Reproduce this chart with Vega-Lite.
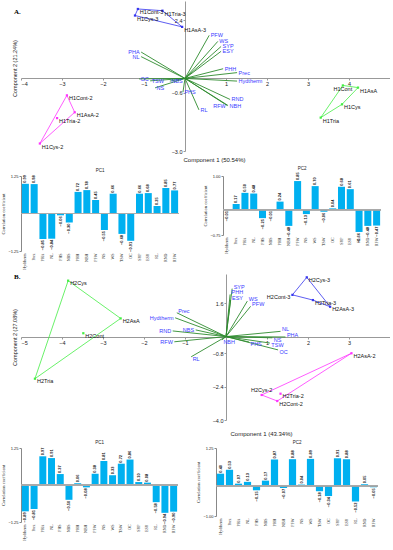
{
  "$schema": "https://vega.github.io/schema/vega-lite/v6.json",
  "padding": {"left": 0, "top": 1, "right": 0, "bottom": 0},
  "background": "white",
  "spacing": 3,
  "config": {
    "view": {"stroke": null},
    "axis": {"labelFont": "Liberation Sans", "titleFont": "Liberation Sans", "titleFontWeight": "normal", "labelColor": "#222", "titleColor": "#222", "grid": false},
    "title": {"font": "Liberation Sans", "fontWeight": "normal", "fontSize": 5, "color": "#222"},
    "text": {"font": "Liberation Sans"}
  },
  "datasets": {
    "loadA": [
      {"v": "Hydtherm", "pc1": 0.99, "pc2": -0.01, "x": 1.27, "y": -0.11},
      {"v": "Prec", "pc1": 0.98, "pc2": 0.17, "x": 1.27, "y": 0.24},
      {"v": "PHA", "pc1": -0.85, "pc2": 0.50, "x": -1.07, "y": 1.09},
      {"v": "NL", "pc1": -0.84, "pc2": 0.48, "x": -1.07, "y": 0.90},
      {"v": "PHS", "pc1": -0.06, "pc2": -0.25, "x": -0.05, "y": -0.57},
      {"v": "NBS", "pc1": -0.30, "pc2": -0.01, "x": -0.37, "y": -0.11},
      {"v": "PHH", "pc1": 0.72, "pc2": 0.24, "x": 0.93, "y": 0.40},
      {"v": "NBH", "pc1": 0.78, "pc2": -0.48, "x": 1.05, "y": -1.12},
      {"v": "PFW", "pc1": 0.45, "pc2": 0.85, "x": 0.59, "y": 1.78},
      {"v": "NS", "pc1": -0.55, "pc2": -0.13, "x": -0.73, "y": -0.39},
      {"v": "WS", "pc1": 0.66, "pc2": 0.70, "x": 0.80, "y": 1.53},
      {"v": "TSW", "pc1": -0.68, "pc2": -0.06, "x": -0.85, "y": -0.10},
      {"v": "OC", "pc1": -0.91, "pc2": 0.04, "x": -1.12, "y": -0.02},
      {"v": "SYP", "pc1": 0.66, "pc2": 0.68, "x": 0.88, "y": 1.32},
      {"v": "ESY", "pc1": 0.68, "pc2": 0.61, "x": 0.88, "y": 1.12},
      {"v": "RL", "pc1": 0.25, "pc2": -0.66, "x": 0.34, "y": -1.30},
      {"v": "RND", "pc1": 0.85, "pc2": -0.48, "x": 1.10, "y": -0.87},
      {"v": "RFW", "pc1": 0.77, "pc2": -0.47, "x": 1.03, "y": -1.12}
    ],
    "loadB": [
      {"v": "Hydtherm", "pc1": -0.89, "pc2": 0.40, "x": -1.24, "y": 0.90},
      {"v": "Prec", "pc1": -0.81, "pc2": 0.53, "x": -1.20, "y": 1.14},
      {"v": "PHA", "pc1": 0.97, "pc2": 0.07, "x": 1.45, "y": -0.02},
      {"v": "NL", "pc1": 0.91, "pc2": 0.13, "x": 1.33, "y": 0.25},
      {"v": "PHS", "pc1": 0.37, "pc2": -0.15, "x": 0.56, "y": -0.26},
      {"v": "NBS", "pc1": -0.50, "pc2": 0.17, "x": -0.74, "y": 0.32},
      {"v": "PHH", "pc1": 0.06, "pc2": 0.87, "x": 0.10, "y": 2.02},
      {"v": "NBH", "pc1": -0.08, "pc2": -0.07, "x": -0.10, "y": -0.16},
      {"v": "PFW", "pc1": 0.38, "pc2": 0.88, "x": 0.60, "y": 1.45},
      {"v": "NS", "pc1": 0.81, "pc2": 0.04, "x": 1.13, "y": -0.06},
      {"v": "WS", "pc1": 0.33, "pc2": 0.89, "x": 0.52, "y": 1.70},
      {"v": "TSW", "pc1": 0.72, "pc2": -0.18, "x": 1.07, "y": -0.31},
      {"v": "OC", "pc1": 0.86, "pc2": -0.34, "x": 1.27, "y": -0.64},
      {"v": "SYP", "pc1": 0.10, "pc2": 0.91, "x": 0.15, "y": 2.30},
      {"v": "ESY", "pc1": 0.08, "pc2": 0.88, "x": 0.11, "y": 1.75},
      {"v": "RL", "pc1": -0.58, "pc2": -0.52, "x": -0.85, "y": -0.97},
      {"v": "RND", "pc1": -0.94, "pc2": 0.05, "x": -1.30, "y": 0.27},
      {"v": "RFW", "pc1": -0.90, "pc2": -0.05, "x": -1.26, "y": -0.25}
    ],
    "grpA": [
      {"id": "H1Cont-3", "g": "3", "x": -1.15, "y": 2.87},
      {"id": "H1Tria-3", "g": "3", "x": -0.55, "y": 2.80},
      {"id": "H1AsA-3", "g": "3", "x": -0.07, "y": 2.13},
      {"id": "H1Cys-3", "g": "3", "x": -1.22, "y": 2.60},
      {"id": "H1Cont-2", "g": "2", "x": -2.88, "y": -0.70},
      {"id": "H1AsA-2", "g": "2", "x": -2.69, "y": -1.40},
      {"id": "H1Tria-2", "g": "2", "x": -3.12, "y": -1.64},
      {"id": "H1Cys-2", "g": "2", "x": -3.54, "y": -2.69},
      {"id": "H1Cont", "g": "1", "x": 3.85, "y": -0.29},
      {"id": "H1AsA", "g": "1", "x": 4.22, "y": -0.38},
      {"id": "H1Cys", "g": "1", "x": 3.83, "y": -1.07},
      {"id": "H1Tria", "g": "1", "x": 3.31, "y": -1.62}
    ],
    "hullA": [
      {"g": "3", "o": 1, "x": -1.15, "y": 2.87},
      {"g": "3", "o": 2, "x": -0.55, "y": 2.80},
      {"g": "3", "o": 3, "x": -0.07, "y": 2.13},
      {"g": "3", "o": 4, "x": -1.22, "y": 2.60},
      {"g": "3", "o": 5, "x": -1.15, "y": 2.87},
      {"g": "2", "o": 1, "x": -3.54, "y": -2.69},
      {"g": "2", "o": 2, "x": -2.88, "y": -0.70},
      {"g": "2", "o": 3, "x": -2.69, "y": -1.40},
      {"g": "2", "o": 4, "x": -3.54, "y": -2.69},
      {"g": "1", "o": 1, "x": 3.31, "y": -1.62},
      {"g": "1", "o": 2, "x": 3.85, "y": -0.29},
      {"g": "1", "o": 3, "x": 4.22, "y": -0.38},
      {"g": "1", "o": 4, "x": 3.83, "y": -1.07},
      {"g": "1", "o": 5, "x": 3.31, "y": -1.62}
    ],
    "grpB": [
      {"id": "H2Cys", "g": "1", "x": -3.85, "y": 2.68},
      {"id": "H2AsA", "g": "1", "x": -2.57, "y": 0.87},
      {"id": "H2Cont", "g": "1", "x": -3.48, "y": 0.16},
      {"id": "H2Tria", "g": "1", "x": -4.66, "y": -2.02},
      {"id": "H2Cys-3", "g": "3", "x": 1.97, "y": 2.84},
      {"id": "H2Cont-3", "g": "3", "x": 1.62, "y": 2.0},
      {"id": "H2Tria-3", "g": "3", "x": 2.12, "y": 1.75},
      {"id": "H2AsA-3", "g": "3", "x": 2.54, "y": 1.43},
      {"id": "H2AsA-2", "g": "2", "x": 3.06, "y": -0.80},
      {"id": "H2Cys-2", "g": "2", "x": 0.87, "y": -2.80},
      {"id": "H2Tria-2", "g": "2", "x": 1.33, "y": -2.74},
      {"id": "H2Cont-2", "g": "2", "x": 1.25, "y": -3.09}
    ],
    "hullB": [
      {"g": "1", "o": 1, "x": -3.85, "y": 2.68},
      {"g": "1", "o": 2, "x": -2.57, "y": 0.87},
      {"g": "1", "o": 3, "x": -4.66, "y": -2.02},
      {"g": "1", "o": 4, "x": -3.85, "y": 2.68},
      {"g": "3", "o": 1, "x": 1.97, "y": 2.84},
      {"g": "3", "o": 2, "x": 2.54, "y": 1.43},
      {"g": "3", "o": 3, "x": 2.12, "y": 1.75},
      {"g": "3", "o": 4, "x": 1.62, "y": 2.0},
      {"g": "3", "o": 5, "x": 1.97, "y": 2.84},
      {"g": "2", "o": 1, "x": 3.06, "y": -0.80},
      {"g": "2", "o": 2, "x": 0.87, "y": -2.80},
      {"g": "2", "o": 3, "x": 1.25, "y": -3.09},
      {"g": "2", "o": 4, "x": 3.06, "y": -0.80}
    ]
  },
  "vconcat": [
    {
      "width": 369, "height": 150,
      "title": {"text": "A.", "anchor": "start", "font": "Liberation Serif", "fontSize": 7, "fontWeight": "bold", "color": "#000", "offset": -14, "dx": 2},
      "layer": [
        {
          "data": {"name": "loadA"},
          "mark": {"type": "rule", "color": "#2e8b2e", "strokeWidth": 0.9},
          "encoding": {
            "x": {"field": "x", "type": "quantitative", "scale": {"domain": [-4, 5], "nice": false, "zero": false},
                  "axis": {"values": [-4, -3, -2, -1, 1, 2, 3, 4], "format": "d", "offset": -73, "title": "Component 1 (50.54%)", "titleX": 193, "titleY": 81, "titleAlign": "center", "titleBaseline": "middle", "titleFontSize": 6, "labelFontSize": 5.5, "tickSize": 2, "labelPadding": 1, "domainColor": "#999", "tickColor": "#999"}},
            "y": {"field": "y", "type": "quantitative", "scale": {"domain": [-3.0, 3.2], "nice": false, "zero": false},
                  "axis": {"values": [2.4, 1.8, 1.2, 0.6, -0.6, -1.2, -1.8, -2.4, -3.0], "format": ".1f", "offset": -164, "title": "Component 2 (21.24%)", "titleX": -171, "titleY": 67, "titleAngle": 270, "titleAlign": "center", "titleBaseline": "middle", "titleFontSize": 5.5, "labelFontSize": 5.5, "tickSize": 2, "labelPadding": 1, "domainColor": "#999", "tickColor": "#999"}},
            "x2": {"datum": 0},
            "y2": {"datum": 0}
          }
        },
        {
          "data": {"name": "hullA"},
          "mark": {"type": "line", "strokeWidth": 0.8},
          "encoding": {
            "x": {"field": "x", "type": "quantitative"},
            "y": {"field": "y", "type": "quantitative"},
            "color": {"field": "g", "type": "nominal", "scale": {"domain": ["1", "2", "3"], "range": ["#44ee44", "#ff33ff", "#3535ee"]}, "legend": null},
            "order": {"field": "o", "type": "quantitative"}
          }
        },
        {
          "data": {"name": "grpA"},
          "mark": {"type": "square", "size": 5, "filled": true, "opacity": 1},
          "encoding": {
            "x": {"field": "x", "type": "quantitative"},
            "y": {"field": "y", "type": "quantitative"},
            "color": {"field": "g", "type": "nominal", "legend": null}
          }
        },
        {
          "data": {"name": "grpA"},
          "transform": [{"filter": {"not": {"field": "id", "equal": "H1Cont"}}}],
          "mark": {"type": "text", "align": "left", "baseline": "middle", "dx": 2, "dy": 3, "fontSize": 5.5, "color": "#111"},
          "encoding": {
            "x": {"field": "x", "type": "quantitative"},
            "y": {"field": "y", "type": "quantitative"},
            "text": {"field": "id"}
          }
        },
        {
          "data": {"name": "grpA"},
          "transform": [{"filter": {"field": "id", "equal": "H1Cont"}}],
          "mark": {"type": "text", "align": "center", "baseline": "middle", "dy": 3.5, "fontSize": 5.5, "color": "#111"},
          "encoding": {
            "x": {"field": "x", "type": "quantitative"},
            "y": {"field": "y", "type": "quantitative"},
            "text": {"field": "id"}
          }
        },
        {
          "data": {"name": "loadA"},
          "transform": [{"filter": {"not": {"field": "v", "oneOf": ["PHA", "NL", "RFW"]}}}],
          "mark": {"type": "text", "align": "left", "baseline": "middle", "dx": 1.5, "fontSize": 5.5, "color": "#3a3aff"},
          "encoding": {
            "x": {"field": "x", "type": "quantitative"},
            "y": {"field": "y", "type": "quantitative"},
            "text": {"field": "v"}
          }
        },
        {
          "data": {"name": "loadA"},
          "transform": [{"filter": {"field": "v", "oneOf": ["PHA", "NL", "RFW"]}}],
          "mark": {"type": "text", "align": "right", "baseline": "middle", "dx": -1.5, "fontSize": 5.5, "color": "#3a3aff"},
          "encoding": {
            "x": {"field": "x", "type": "quantitative"},
            "y": {"field": "y", "type": "quantitative"},
            "text": {"field": "v"}
          }
        }
      ]
    },
    {
      "spacing": 22,
      "hconcat": [
        {
          "width": 158, "height": 75,
          "title": {"text": "PC1", "fontSize": 4.5, "offset": 2},
          "data": {"name": "loadA"},
          "layer": [
            {"mark": {"type": "bar", "color": "#00b0f0"},
             "encoding": {
               "x": {"field": "v", "type": "nominal", "sort": null, "scale": {"paddingInner": 0.2, "paddingOuter": 0.1}, "axis": {"title": null, "labelAngle": 270, "labelFontSize": 4, "labelFont": "Liberation Serif", "ticks": false, "domain": false, "labelPadding": 2}},
               "y": {"field": "pc1", "type": "quantitative", "scale": {"domain": [-1.25, 1.25], "nice": false}, "axis": {"values": [1.25, 0.75, 0.25, -0.25, -0.75, -1.25], "format": ".2f", "title": "Correlation coefficient", "titleFontSize": 4.5, "titleFont": "Liberation Serif", "titlePadding": 2, "labelFontSize": 4, "tickSize": 2, "labelPadding": 1, "domainColor": "#888", "tickColor": "#888"}}
             }},
            {"mark": {"type": "rule", "color": "#aaa", "strokeWidth": 0.5}, "encoding": {"y": {"datum": 0}}},
            {"transform": [{"filter": "datum.pc1 >= 0"}],
             "mark": {"type": "text", "angle": 270, "align": "left", "baseline": "middle", "dx": 1, "fontSize": 4, "fontWeight": "bold", "color": "#111"},
             "encoding": {"x": {"field": "v", "type": "nominal", "sort": null}, "y": {"field": "pc1", "type": "quantitative"}, "text": {"field": "pc1", "format": ".2f"}}},
            {"transform": [{"filter": "datum.pc1 < 0"}],
             "mark": {"type": "text", "angle": 270, "align": "right", "baseline": "middle", "dx": -1, "fontSize": 4, "fontWeight": "bold", "color": "#111"},
             "encoding": {"x": {"field": "v", "type": "nominal", "sort": null}, "y": {"field": "pc1", "type": "quantitative"}, "text": {"field": "pc1", "format": ".2f"}}}
          ]
        },
        {
          "width": 158, "height": 59,
          "title": {"text": "PC2", "fontSize": 4.5, "offset": 2},
          "data": {"name": "loadA"},
          "layer": [
            {"mark": {"type": "bar", "color": "#00b0f0"},
             "encoding": {
               "x": {"field": "v", "type": "nominal", "sort": null, "scale": {"paddingInner": 0.2, "paddingOuter": 0.1}, "axis": {"title": null, "labelAngle": 270, "labelFontSize": 4, "labelFont": "Liberation Serif", "ticks": false, "domain": false, "labelPadding": 2}},
               "y": {"field": "pc2", "type": "quantitative", "scale": {"domain": [-0.75, 1.0], "nice": false}, "axis": {"values": [1.0, 0.75, 0.5, 0.25, 0, -0.25, -0.5, -0.75], "format": ".2f", "title": "Correlation coefficient", "titleFontSize": 4.5, "titleFont": "Liberation Serif", "titlePadding": 2, "labelFontSize": 4, "tickSize": 2, "labelPadding": 1, "domainColor": "#888", "tickColor": "#888"}}
             }},
            {"mark": {"type": "rule", "color": "#aaa", "strokeWidth": 0.5}, "encoding": {"y": {"datum": 0}}},
            {"transform": [{"filter": "datum.pc2 >= 0"}],
             "mark": {"type": "text", "angle": 270, "align": "left", "baseline": "middle", "dx": 1, "fontSize": 4, "fontWeight": "bold", "color": "#111"},
             "encoding": {"x": {"field": "v", "type": "nominal", "sort": null}, "y": {"field": "pc2", "type": "quantitative"}, "text": {"field": "pc2", "format": ".2f"}}},
            {"transform": [{"filter": "datum.pc2 < 0"}],
             "mark": {"type": "text", "angle": 270, "align": "right", "baseline": "middle", "dx": -1, "fontSize": 4, "fontWeight": "bold", "color": "#111"},
             "encoding": {"x": {"field": "v", "type": "nominal", "sort": null}, "y": {"field": "pc2", "type": "quantitative"}, "text": {"field": "pc2", "format": ".2f"}}}
          ]
        }
      ]
    },
    {
      "width": 369, "height": 146,
      "title": {"text": "B.", "anchor": "start", "font": "Liberation Serif", "fontSize": 7, "fontWeight": "bold", "color": "#000", "offset": -6, "dx": 2},
      "layer": [
        {
          "data": {"name": "loadB"},
          "mark": {"type": "rule", "color": "#2e8b2e", "strokeWidth": 0.9},
          "encoding": {
            "x": {"field": "x", "type": "quantitative", "scale": {"domain": [-5, 4], "nice": false, "zero": false},
                  "axis": {"values": [-5, -4, -3, -2, -1, 1, 2, 3], "format": "d", "offset": -83, "title": "Component 1 (43.34%)", "titleX": 240, "titleY": 96, "titleAlign": "center", "titleBaseline": "middle", "titleFontSize": 6, "labelFontSize": 5.5, "tickSize": 2, "labelPadding": 1, "domainColor": "#999", "tickColor": "#999"}},
            "y": {"field": "y", "type": "quantitative", "scale": {"domain": [-4.0, 3.0], "nice": false, "zero": false},
                  "axis": {"values": [2.4, 1.6, 0.8, -0.8, -1.6, -2.4, -3.2, -4.0], "format": ".1f", "offset": -205, "title": "Component 2 (27.08%)", "titleX": -212, "titleY": 63, "titleAngle": 270, "titleAlign": "center", "titleBaseline": "middle", "titleFontSize": 5.5, "labelFontSize": 5.5, "tickSize": 2, "labelPadding": 1, "domainColor": "#999", "tickColor": "#999"}},
            "x2": {"datum": 0},
            "y2": {"datum": 0}
          }
        },
        {
          "data": {"name": "hullB"},
          "mark": {"type": "line", "strokeWidth": 0.8},
          "encoding": {
            "x": {"field": "x", "type": "quantitative"},
            "y": {"field": "y", "type": "quantitative"},
            "color": {"field": "g", "type": "nominal", "scale": {"domain": ["1", "2", "3"], "range": ["#44ee44", "#ff33ff", "#3535ee"]}, "legend": null},
            "order": {"field": "o", "type": "quantitative"}
          }
        },
        {
          "data": {"name": "grpB"},
          "mark": {"type": "square", "size": 5, "filled": true, "opacity": 1},
          "encoding": {
            "x": {"field": "x", "type": "quantitative"},
            "y": {"field": "y", "type": "quantitative"},
            "color": {"field": "g", "type": "nominal", "legend": null}
          }
        },
        {
          "data": {"name": "grpB"},
          "transform": [{"filter": {"not": {"field": "id", "oneOf": ["H2Cont-3", "H2Cys-2"]}}}],
          "mark": {"type": "text", "align": "left", "baseline": "middle", "dx": 2, "dy": 2.5, "fontSize": 5.5, "color": "#111"},
          "encoding": {
            "x": {"field": "x", "type": "quantitative"},
            "y": {"field": "y", "type": "quantitative"},
            "text": {"field": "id"}
          }
        },
        {
          "data": {"name": "grpB"},
          "transform": [{"filter": {"field": "id", "equal": "H2Cont-3"}}],
          "mark": {"type": "text", "align": "right", "baseline": "middle", "dx": -2, "dy": 2, "fontSize": 5.5, "color": "#111"},
          "encoding": {
            "x": {"field": "x", "type": "quantitative"},
            "y": {"field": "y", "type": "quantitative"},
            "text": {"field": "id"}
          }
        },
        {
          "data": {"name": "grpB"},
          "transform": [{"filter": {"field": "id", "equal": "H2Cys-2"}}],
          "mark": {"type": "text", "align": "center", "baseline": "middle", "dy": -5, "fontSize": 5.5, "color": "#111"},
          "encoding": {
            "x": {"field": "x", "type": "quantitative"},
            "y": {"field": "y", "type": "quantitative"},
            "text": {"field": "id"}
          }
        },
        {
          "data": {"name": "loadB"},
          "transform": [{"filter": {"field": "v", "oneOf": ["SYP", "PHH", "ESY", "WS", "PFW", "NL", "PHA", "Prec"]}}],
          "mark": {"type": "text", "align": "left", "baseline": "middle", "dx": 1.5, "dy": -2, "fontSize": 5.5, "color": "#3a3aff"},
          "encoding": {
            "x": {"field": "x", "type": "quantitative"},
            "y": {"field": "y", "type": "quantitative"},
            "text": {"field": "v"}
          }
        },
        {
          "data": {"name": "loadB"},
          "transform": [{"filter": {"field": "v", "oneOf": ["NS", "TSW", "OC", "PHS", "RL", "NBH"]}}],
          "mark": {"type": "text", "align": "left", "baseline": "middle", "dx": 1.5, "dy": 2, "fontSize": 5.5, "color": "#3a3aff"},
          "encoding": {
            "x": {"field": "x", "type": "quantitative"},
            "y": {"field": "y", "type": "quantitative"},
            "text": {"field": "v"}
          }
        },
        {
          "data": {"name": "loadB"},
          "transform": [{"filter": {"field": "v", "oneOf": ["Hydtherm", "RND", "RFW", "NBS"]}}],
          "mark": {"type": "text", "align": "right", "baseline": "middle", "dx": -1.5, "fontSize": 5.5, "color": "#3a3aff"},
          "encoding": {
            "x": {"field": "x", "type": "quantitative"},
            "y": {"field": "y", "type": "quantitative"},
            "text": {"field": "v"}
          }
        }
      ]
    },
    {
      "spacing": 16,
      "hconcat": [
        {
          "width": 157, "height": 74,
          "title": {"text": "PC1", "fontSize": 4.5, "offset": 2},
          "data": {"name": "loadB"},
          "layer": [
            {"mark": {"type": "bar", "color": "#00b0f0"},
             "encoding": {
               "x": {"field": "v", "type": "nominal", "sort": null, "scale": {"paddingInner": 0.2, "paddingOuter": 0.1}, "axis": {"title": null, "labelAngle": 270, "labelFontSize": 4, "labelFont": "Liberation Serif", "ticks": false, "domain": false, "labelPadding": 2}},
               "y": {"field": "pc1", "type": "quantitative", "scale": {"domain": [-1.25, 1.25], "nice": false}, "axis": {"values": [1.25, 1.0, 0.75, 0.5, 0.25, 0, -0.25, -0.5, -0.75, -1.0, -1.25], "format": ".2f", "title": "Correlation coefficient", "titleFontSize": 4.5, "titleFont": "Liberation Serif", "titlePadding": 2, "labelFontSize": 4, "tickSize": 2, "labelPadding": 1, "domainColor": "#888", "tickColor": "#888"}}
             }},
            {"mark": {"type": "rule", "color": "#aaa", "strokeWidth": 0.5}, "encoding": {"y": {"datum": 0}}},
            {"transform": [{"filter": "datum.pc1 >= 0"}],
             "mark": {"type": "text", "angle": 270, "align": "left", "baseline": "middle", "dx": 1, "fontSize": 4, "fontWeight": "bold", "color": "#111"},
             "encoding": {"x": {"field": "v", "type": "nominal", "sort": null}, "y": {"field": "pc1", "type": "quantitative"}, "text": {"field": "pc1", "format": ".2f"}}},
            {"transform": [{"filter": "datum.pc1 < 0"}],
             "mark": {"type": "text", "angle": 270, "align": "right", "baseline": "middle", "dx": -1, "fontSize": 4, "fontWeight": "bold", "color": "#111"},
             "encoding": {"x": {"field": "v", "type": "nominal", "sort": null}, "y": {"field": "pc1", "type": "quantitative"}, "text": {"field": "pc1", "format": ".2f"}}}
          ]
        },
        {
          "width": 162, "height": 68,
          "title": {"text": "PC2", "fontSize": 4.5, "offset": 2},
          "data": {"name": "loadB"},
          "layer": [
            {"mark": {"type": "bar", "color": "#00b0f0"},
             "encoding": {
               "x": {"field": "v", "type": "nominal", "sort": null, "scale": {"paddingInner": 0.2, "paddingOuter": 0.1}, "axis": {"title": null, "labelAngle": 270, "labelFontSize": 4, "labelFont": "Liberation Serif", "ticks": false, "domain": false, "labelPadding": 2}},
               "y": {"field": "pc2", "type": "quantitative", "scale": {"domain": [-1.0, 1.25], "nice": false}, "axis": {"values": [1.25, 1.0, 0.75, 0.5, 0.25, 0, -0.25, -0.5, -0.75, -1.0], "format": ".2f", "title": "Correlation coefficient", "titleFontSize": 4.5, "titleFont": "Liberation Serif", "titlePadding": 2, "labelFontSize": 4, "tickSize": 2, "labelPadding": 1, "domainColor": "#888", "tickColor": "#888"}}
             }},
            {"mark": {"type": "rule", "color": "#aaa", "strokeWidth": 0.5}, "encoding": {"y": {"datum": 0}}},
            {"transform": [{"filter": "datum.pc2 >= 0"}],
             "mark": {"type": "text", "angle": 270, "align": "left", "baseline": "middle", "dx": 1, "fontSize": 4, "fontWeight": "bold", "color": "#111"},
             "encoding": {"x": {"field": "v", "type": "nominal", "sort": null}, "y": {"field": "pc2", "type": "quantitative"}, "text": {"field": "pc2", "format": ".2f"}}},
            {"transform": [{"filter": "datum.pc2 < 0"}],
             "mark": {"type": "text", "angle": 270, "align": "right", "baseline": "middle", "dx": -1, "fontSize": 4, "fontWeight": "bold", "color": "#111"},
             "encoding": {"x": {"field": "v", "type": "nominal", "sort": null}, "y": {"field": "pc2", "type": "quantitative"}, "text": {"field": "pc2", "format": ".2f"}}}
          ]
        }
      ]
    }
  ]
}
